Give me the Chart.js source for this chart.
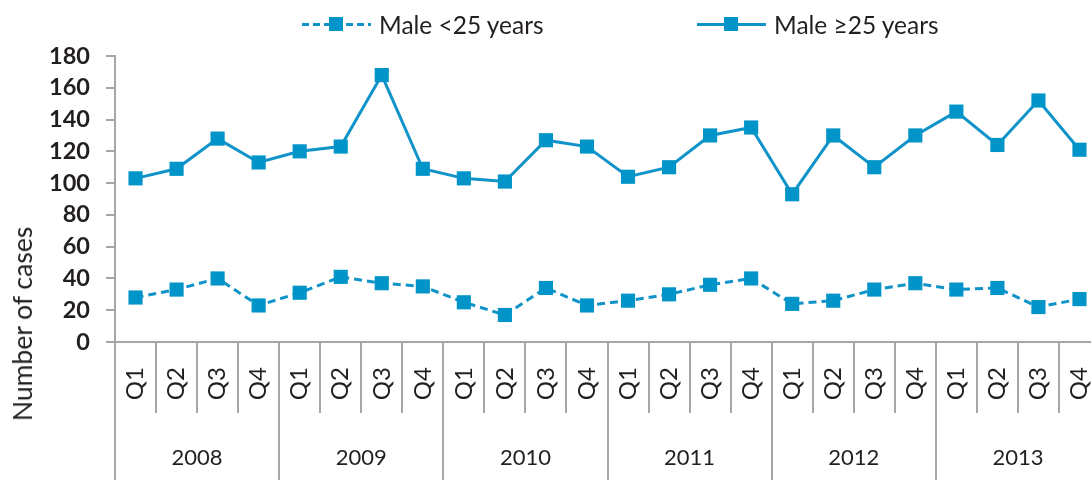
<!DOCTYPE html>
<html>
<head>
<meta charset="utf-8">
<script src="https://cdn.jsdelivr.net/npm/chart.js@4.4.1/dist/chart.umd.min.js"></script>
<style>
    html, body { margin: 0; padding: 0; background: #fff; }
    #wrap { position: relative; width: 1091px; height: 480px; overflow: hidden; font-family: Lato, "Open Sans", sans-serif; color: #231f20; }
    #chart { position: absolute; left: 0; top: 0; }
    .leg { position: absolute; top: 9px; height: 30px; display: flex; align-items: center; font-size: 24.5px; }
    .sym { position: relative; width: 69px; height: 3px; margin-right: 8px; }
    .sym.solid { background: #0f93c8; }
    .sym.dashed { background: repeating-linear-gradient(90deg, #0f93c8 0 7px, transparent 7px 11px); }
    .sym i { position: absolute; left: 27px; top: -5.5px; width: 14px; height: 14px; background: #0094c8; }
    #ytitle { position: absolute; left: 22px; top: 324px; transform: translate(-50%, -50%) rotate(-90deg); font-size: 26.5px; white-space: nowrap; }
</style>
</head>
<body>
<div id="wrap">
    <canvas id="chart" width="1110" height="480"></canvas>
    <div class="leg" style="left:302px"><span class="sym dashed"><i></i></span><span>Male &lt;25 years</span></div>
    <div class="leg" style="left:697px"><span class="sym solid"><i></i></span><span>Male ≥25 years</span></div>
    <div id="ytitle">Number of cases</div>
</div>
<script>
// ========== 数据 ==========
const quarters = ['Q1', 'Q2', 'Q3', 'Q4', 'Q1', 'Q2', 'Q3', 'Q4', 'Q1', 'Q2', 'Q3', 'Q4',
                  'Q1', 'Q2', 'Q3', 'Q4', 'Q1', 'Q2', 'Q3', 'Q4', 'Q1', 'Q2', 'Q3', 'Q4'];
const years = ['2008', '2009', '2010', '2011', '2012', '2013'];
const maleUnder25 = [28, 33, 40, 23, 31, 41, 37, 35, 25, 17, 34, 23,
                     26, 30, 36, 40, 24, 26, 33, 37, 33, 34, 22, 27];
const male25Plus = [103, 109, 128, 113, 120, 123, 168, 109, 103, 101, 127, 123,
                    104, 110, 130, 135, 93, 130, 110, 130, 145, 124, 152, 121];
const yTicks = [0, 20, 40, 60, 80, 100, 120, 140, 160, 180];

const lineColor = '#0f93c8';
const markColor = '#0094c8';
const axisColor = '#a6a6a6';
const textColor = '#231f20';
const fontFamily = 'Lato, "Open Sans", sans-serif';

// ========== 图表 ==========
const ctx = document.getElementById('chart').getContext('2d');
new Chart(ctx, {
    type: 'line',
    data: {
        labels: quarters,
        datasets: [
            {
                label: 'Male <25 years',
                data: maleUnder25,
                borderColor: lineColor,
                borderWidth: 3,
                borderDash: [8, 5],
                pointStyle: 'rect',
                pointRadius: 10,
                pointHoverRadius: 10,
                pointBorderWidth: 0,
                pointBackgroundColor: markColor,
                tension: 0,
                fill: false
            },
            {
                label: 'Male ≥25 years',
                data: male25Plus,
                borderColor: lineColor,
                borderWidth: 3,
                pointStyle: 'rect',
                pointRadius: 10,
                pointHoverRadius: 10,
                pointBorderWidth: 0,
                pointBackgroundColor: markColor,
                tension: 0,
                fill: false
            }
        ]
    },
    options: {
        responsive: false,
        animation: false,
        layout: { padding: { top: 56, right: 7, bottom: 0, left: 0 } },
        plugins: {
            legend: { display: false },
            tooltip: { enabled: false }
        },
        scales: {
            y: {
                min: 0,
                max: 180,
                afterBuildTicks: s => { s.ticks = yTicks.map(v => ({ value: v })); },
                afterFit: s => { s.width = 115; },
                grid: { drawOnChartArea: false, tickLength: 9, color: axisColor, lineWidth: 2 },
                border: { color: axisColor, width: 2 },
                ticks: { padding: 16, color: textColor, font: { family: fontFamily, size: 23.5, weight: 'bold' } }
            },
            x: {
                type: 'category',
                offset: true,
                afterFit: s => { s.height = 71; },
                grid: { offset: true, drawOnChartArea: false, tickLength: 71, color: axisColor, lineWidth: 2 },
                border: { color: axisColor, width: 2 },
                ticks: {
                    autoSkip: false, minRotation: 90, maxRotation: 90, padding: -46,
                    color: textColor, font: { family: fontFamily, size: 24 }
                }
            },
            x2: {
                type: 'category',
                labels: years,
                position: 'bottom',
                offset: true,
                afterFit: s => { s.height = 67; },
                grid: { offset: true, drawOnChartArea: false, tickLength: 80, color: axisColor, lineWidth: 2 },
                border: { display: false },
                ticks: { padding: -48, color: textColor, font: { family: fontFamily, size: 22 } }
            }
        }
    }
});
</script>
</body>
</html>
